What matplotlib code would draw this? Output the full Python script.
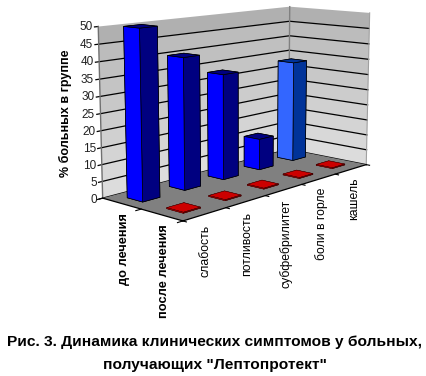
import numpy as np
import matplotlib
matplotlib.use('Agg')
import matplotlib.pyplot as plt
from mpl_toolkits.mplot3d.art3d import Poly3DCollection
from mpl_toolkits.mplot3d import proj3d

plt.rcParams['font.family'] = ['Liberation Sans', 'DejaVu Sans']

# data
symptoms = ['слабость', 'потливость', 'субфебрилитет', 'боли в горле', 'кашель']
series_names = ['до лечения', 'после лечения']
before = [50, 40, 33, 10, 33]
after = [0.3, 0.3, 0.3, 0.3, 0.3]
z_ticks = [0, 5, 10, 15, 20, 25, 30, 35, 40, 45, 50]
# wall colour per 5% band, bottom to top
band_cols = ['#dcdcdc', '#d8d8d8', '#d4d4d4', '#d0d0d0', '#cccccc',
             '#c8c8c8', '#c4c4c4', '#c0c0c0', '#bcbcbc', '#b0b0b0']

W, H = 426, 376
fig = plt.figure(figsize=(W / 100, H / 100), dpi=100, facecolor='white')
ax = fig.add_subplot(projection='3d', computed_zorder=False)
ax.view_init(10.404, -137.772)
ax.set_proj_type('persp', focal_length=0.5715)
ax.set_box_aspect((1.68906, 0.6643, 1))
ax.set_axis_off()

nx, ny, zmax = len(symptoms), len(series_names), z_ticks[-1]


def quad(pts, fc, z=1, ec='none', lw=0):
    col = Poly3DCollection([pts], facecolors=fc, edgecolors=ec, linewidths=lw)
    col.set_zorder(z)
    ax.add_collection3d(col)


# walls
for lo, hi, c in zip(z_ticks[:-1], z_ticks[1:], band_cols):
    quad([(0, ny, lo), (nx, ny, lo), (nx, ny, hi), (0, ny, hi)], c)
    quad([(nx, 0, lo), (nx, ny, lo), (nx, ny, hi), (nx, 0, hi)], c)

# grid lines + value ticks on the left
for t in z_ticks[:-1]:
    ax.plot([-0.08, nx], [ny, ny], [t, t], color='black', lw=0.9, zorder=2)
    ax.plot([nx, nx], [ny, 0], [t, t], color='black', lw=0.9, zorder=2)
ax.plot([-0.08, 0], [ny, ny], [zmax, zmax], color='black', lw=0.9, zorder=2)

# wall edges
ax.plot([0, 0], [ny, ny], [0, zmax], color='#707070', lw=1, zorder=2)
ax.plot([nx, nx], [ny, ny], [0, zmax], color='#808080', lw=1, zorder=2)
ax.plot([nx, nx], [0, 0], [0, zmax], color='#a0a0a0', lw=0.8, zorder=2)

# floor
quad([(0, 0, 0), (nx, 0, 0), (nx, ny, 0), (0, ny, 0)], '#808080', z=3)
ax.plot([0, nx], [0, 0], [0, 0], color='black', lw=0.9, zorder=4)
ax.plot([0, 0], [0, ny], [0, 0], color='black', lw=0.9, zorder=4)
for i in range(nx + 1):
    ax.plot([i, i], [0, -0.08], [0, 0], color='black', lw=0.8, zorder=4)
for j in range(ny + 1):
    ax.plot([0, -0.12], [j, j], [0, 0], color='black', lw=0.8, zorder=4)

bar_w = 0.4
bar_d = 0.4
blue = ['#000080', '#000080', '#000080', '#000080', '#0000ff', '#000080']
light = ['#003399', '#003399', '#003399', '#003399', '#3366ff', '#003399']
red = ['#800000', '#cc0000', '#800000', '#800000', '#cc0000', '#800000']

# red row (front)
for i, v in enumerate(after):
    b = ax.bar3d(i + 0.5 - bar_w / 2, 0.5 - bar_d / 2, 0, bar_w, bar_d, v, color=red,
                 shade=False, edgecolor='#300000', linewidth=0.3)
    b.set_zorder(5)

# blue row, far bars first
for i in range(nx - 1, -1, -1):
    cols = light if i == 4 else blue
    b = ax.bar3d(i + 0.5 - bar_w / 2, 1.5 - bar_d / 2, 0, bar_w, bar_d, before[i], color=cols,
                 shade=False, edgecolor='black', linewidth=0.5)
    b.set_zorder(10 + nx - i)

ax.set_xlim(0, nx, view_margin=0)
ax.set_ylim(0, ny, view_margin=0)
ax.set_zlim(0, zmax, view_margin=0)


def label(x, y, z, s, **kw):
    # Text3D drops rotation, so project by hand and use a flat text
    px, py, _ = proj3d.proj_transform(x, y, z, ax.get_proj())
    ax.text2D(px, py, s, transform=ax.transData, zorder=20, clip_on=False, **kw)


for t in z_ticks:
    label(-0.12, ny, t, str(t), ha='right', va='center', fontsize=8.5, color='#222222')

# category labels
for i, name in enumerate(symptoms):
    label(i + 0.3, -0.22, -1.5, name, rotation=90, ha='center', va='top', fontsize=8.8)
for j, name in enumerate(series_names[::-1]):
    label(0.05, j + 0.5, -3, name, rotation=90, ha='center', va='top', fontsize=9.2,
          fontweight='bold')

# place axes so the projection lands where it should (scale and offset from a fit)
s, tx, ty = 1780.13, 242.72, 100.97
vx0, vx1 = ax.viewLim.intervalx
vy0, vy1 = ax.viewLim.intervaly
ax.set_position([(tx + s * vx0) / W, 1 - (ty - s * vy0) / H, s * (vx1 - vx0) / W, s * (vy1 - vy0) / H])

fig.text(65 / W, 1 - 113 / H, '% больных в группе', rotation=90, ha='center', va='center',
         fontsize=9, fontweight='bold')
fig.text(214 / W, 1 - 346 / H, 'Рис. 3. Динамика клинических симптомов у больных,', ha='center',
         va='baseline', fontsize=11.15, fontweight='bold')
fig.text(215 / W, 1 - 369 / H, 'получающих "Лептопротект"', ha='center', va='baseline',
         fontsize=11.15, fontweight='bold')

fig.savefig('out.png', dpi=100)
